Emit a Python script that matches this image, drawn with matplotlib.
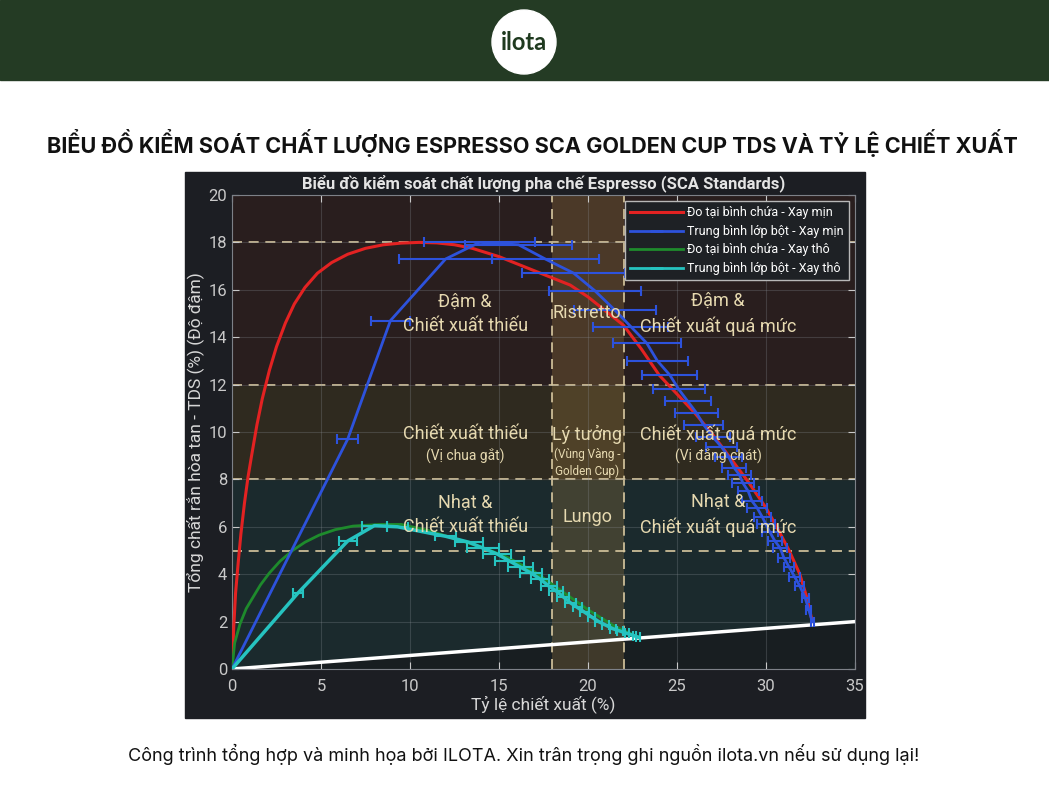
import matplotlib
matplotlib.use("Agg")
import matplotlib.pyplot as plt
from matplotlib import font_manager
from matplotlib.patches import Rectangle, Ellipse
from matplotlib.lines import Line2D

# Data
red_x = [0, 0.1, 0.2, 0.35, 0.5, 0.7, 0.9, 1.1, 1.4, 1.7, 2.1, 2.5, 3.0, 3.5, 4.1, 4.8, 5.6,
         6.5, 7.5, 8.5, 9.5, 10.5, 11.5, 12.5, 13.5, 15, 17, 19, 20, 21, 22, 23, 24, 25, 26,
         27, 28, 29, 30, 30.6, 31.3, 31.9, 32.3, 32.6]
red_y = [0, 1.8, 3.2, 4.5, 5.7, 7.0, 8.1, 9.0, 10.3, 11.4, 12.6, 13.6, 14.6, 15.4, 16.1, 16.7, 17.15,
         17.5, 17.75, 17.9, 17.97, 18.0, 17.98, 17.9, 17.75, 17.4, 16.8, 16.2, 15.7, 15.1, 14.5, 13.5,
         12.4, 11.6, 10.8, 9.9, 8.9, 7.9, 6.8, 6.0, 5.0, 4.0, 3.0, 2.0]

blue_x = [6.5, 8.9, 12.0, 13.9, 16.1, 17.6, 19.2, 20.4, 21.5, 22.4, 23.3, 23.9, 24.6, 25.1,
          25.6, 26.1, 26.5, 27.0, 27.5, 27.9, 28.2, 28.5, 28.7, 29.0, 29.2, 29.5, 29.8, 30.0,
          30.2, 30.5, 30.8, 31.0, 31.3, 31.6, 31.9, 32.2, 32.4, 32.6]
blue_y = [9.7, 14.7, 17.3, 18.0, 17.9, 17.3, 16.7, 15.95, 15.15, 14.45, 13.75, 13.0, 12.4, 11.8,
          11.3, 10.8, 10.3, 9.8, 9.37, 8.95, 8.5, 8.2, 7.85, 7.5, 7.1, 6.8, 6.4, 6.1,
          5.8, 5.4, 5.1, 4.7, 4.3, 3.9, 3.5, 3.0, 2.5, 2.0]
blue_err = [0.6, 1.1, 2.6, 3.1, 3.0, 3.0, 2.9, 2.6, 2.3, 2.1, 1.9, 1.7, 1.55, 1.45,
            1.3, 1.2, 1.1, 0.95, 0.85, 0.75, 0.7, 0.65, 0.6, 0.6, 0.55, 0.55, 0.5, 0.5,
            0.45, 0.4, 0.4, 0.35, 0.3, 0.3, 0.25, 0.2, 0.15, 0.1]

green_x = [0, 0.15, 0.45, 0.8, 1.2, 1.6, 2.1, 2.7, 3.4, 4.1, 4.9, 5.8, 6.8, 8.3, 9.5, 11,
           12.5, 14, 15.5, 17, 18.5, 20, 21.5, 22.8]
green_y = [0, 1.1, 1.9, 2.55, 3.05, 3.55, 4.05, 4.55, 5.0, 5.35, 5.65, 5.88, 6.03, 6.1, 6.1, 5.85,
           5.5, 5.15, 4.7, 4.1, 3.3, 2.5, 1.8, 1.35]

teal_x = [3.7, 6.5, 8.0, 9.3, 12.0, 13.3, 14.1, 14.9, 15.6, 16.2, 16.8, 17.3, 17.8, 18.2,
          18.6, 19.0, 19.4, 19.8, 20.2, 20.6, 21.0, 21.4, 21.8, 22.2, 22.6, 22.8]
teal_y = [3.2, 5.4, 6.05, 6.0, 5.6, 5.35, 5.1, 4.85, 4.55, 4.3, 4.05, 3.8, 3.5, 3.3,
          3.05, 2.8, 2.6, 2.4, 2.2, 2.0, 1.85, 1.7, 1.6, 1.5, 1.4, 1.35]
teal_err = [0.3, 0.5, 0.7, 0.6, 0.6, 0.8, 0.9, 0.8, 0.8, 0.7, 0.6, 0.5, 0.45, 0.4,
            0.35, 0.3, 0.25, 0.25, 0.2, 0.2, 0.2, 0.15, 0.15, 0.1, 0.1, 0.1]

ratio_x = [0, 35]
ratio_y = [0, 2.0]

zone_levels = [0, 8, 12, 20]
zone_colors = ["#1b2a2d", "#2f2a1f", "#291e1e"]
golden_x = [18, 22]
dash_y = [5, 8, 12, 18]

legend_labels = ["Đo tại bình chứa - Xay mịn", "Trung bình lớp bột - Xay mịn",
                 "Đo tại bình chứa - Xay thô", "Trung bình lớp bột - Xay thô"]


def pick(names):
    have = {f.name for f in font_manager.fontManager.ttflist}
    for n in names:
        if n in have:
            return n
    return "DejaVu Sans"


narrow = pick(["Liberation Sans Narrow", "DejaVu Sans Condensed", "Roboto", "DejaVu Sans"])
plt.rcParams['font.family'] = [narrow, 'DejaVu Sans']

W, H = 1049, 800
fig = plt.figure(figsize=(W / 100, H / 100), dpi=100)
fig.patch.set_facecolor("white")

# header bar + logo
fig.add_artist(Rectangle((0, 1 - 80 / H), 1, 80 / H, transform=fig.transFigure,
                         color="#243b24", zorder=0))
fig.add_artist(Ellipse((524 / W, 1 - 42 / H), 64 / W, 64 / H, transform=fig.transFigure,
                       color="white", zorder=1))
fig.text(524 / W, 1 - 42 / H, "ilota", ha="center", va="center", fontsize=17,
         fontweight="bold", color="#1f3a1f", family=["Lato", "DejaVu Sans"])

fig.text(532 / W, 1 - 143 / H,
         "BIỂU ĐỒ KIỂM SOÁT CHẤT LƯỢNG ESPRESSO SCA GOLDEN CUP TDS VÀ TỶ LỆ CHIẾT XUẤT",
         ha="center", va="center", fontsize=15.6, fontweight="bold", color="#111111",
         family=["Inter", "DejaVu Sans"])
fig.text(524 / W, 1 - 754 / H,
         "Công trình tổng hợp và minh họa bởi ILOTA. Xin trân trọng ghi nguồn ilota.vn nếu sử dụng lại!",
         ha="center", va="center", fontsize=13, color="#111111",
         family=["Inter", "DejaVu Sans"])

# dark chart panel
fig.add_artist(Rectangle((185 / W, 1 - 718 / H), 680 / W, 546 / H, transform=fig.transFigure,
                         color="#1c1e23", zorder=0))

ax = fig.add_axes([232 / W, 1 - 669 / H, 623 / W, 474 / H])
ax.set_facecolor("#1c1e23")
ax.set_xlim(0, 35)
ax.set_ylim(0, 20)

for i in range(3):
    ax.axhspan(zone_levels[i], zone_levels[i + 1], color=zone_colors[i], zorder=0)
ax.fill_between(ratio_x, 0, ratio_y, color="#18191c", alpha=0.7, zorder=0.5, lw=0)
ax.axvspan(golden_x[0], golden_x[1], color="#9a7840", alpha=0.3, zorder=0.6, lw=0)

ax.grid(True, color="#8a8f96", alpha=0.28, lw=0.8, zorder=0.7)
for yv in dash_y:
    ax.axhline(yv, color="#d8c8a0", lw=1.2, dashes=(6, 4), zorder=1)
for xv in golden_x:
    ax.axvline(xv, color="#d8c8a0", lw=1.2, dashes=(6, 4), zorder=1)

ax.plot(ratio_x, ratio_y, color="white", lw=2.5, zorder=2)

ax.plot(red_x, red_y, color="#e32222", lw=2.2, zorder=3)
ax.plot([0] + blue_x, [0] + blue_y, color="#2d52dc", lw=2.0, zorder=4)
ax.errorbar(blue_x, blue_y, xerr=blue_err, fmt="none", ecolor="#2d52dc", elinewidth=1.5,
            capsize=3.5, capthick=1.5, zorder=4)
ax.plot(green_x, green_y, color="#1e8b2c", lw=2.0, zorder=3)
ax.plot([0] + teal_x, [0] + teal_y, color="#26c3c0", lw=2.5, zorder=5)
ax.errorbar(teal_x, teal_y, xerr=teal_err, fmt="none", ecolor="#26c3c0", elinewidth=1.5,
            capsize=3.5, capthick=1.5, zorder=5)

txt = dict(color="#e6d9b0", ha="center", va="center", zorder=6, linespacing=1.45)
ax.text(13.1, 15.0, "Đậm &\nChiết xuất thiếu", fontsize=13, **txt)
ax.text(19.95, 15.0, "Ristretto", fontsize=13, **txt)
ax.text(27.3, 15.0, "Đậm &\nChiết xuất quá mức", fontsize=13, **txt)
ax.text(13.1, 9.9, "Chiết xuất thiếu", fontsize=13, **txt)
ax.text(13.1, 9.0, "(Vị chua gắt)", fontsize=10, **txt)
ax.text(19.95, 9.9, "Lý tưởng", fontsize=13, **txt)
ax.text(19.95, 8.7, "(Vùng Vàng -\nGolden Cup)", fontsize=8.5, color="#e6d9b0",
        ha="center", va="center", zorder=6, linespacing=1.3)
ax.text(27.3, 9.9, "Chiết xuất quá mức", fontsize=13, **txt)
ax.text(27.3, 9.0, "(Vị đắng chát)", fontsize=10, **txt)
ax.text(13.1, 6.5, "Nhạt &\nChiết xuất thiếu", fontsize=13, **txt)
ax.text(19.95, 6.4, "Lungo", fontsize=13, **txt)
ax.text(27.3, 6.5, "Nhạt &\nChiết xuất quá mức", fontsize=13, **txt)

ax.set_xticks(range(0, 36, 5))
ax.set_yticks(range(0, 21, 2))
ax.tick_params(colors="#c9c9c9", labelsize=12, direction="in", length=5,
               top=True, right=True)
ax.tick_params(axis="x", pad=7)
for s in ax.spines.values():
    s.set_color("#7d8188")
    s.set_linewidth(0.8)

ax.set_title("Biểu đồ kiểm soát chất lượng pha chế Espresso (SCA Standards)",
             color="#e4e4e4", fontsize=12, fontweight="bold", pad=5)
ax.set_xlabel("Tỷ lệ chiết xuất (%)", color="#d8d8d8", fontsize=12.5, labelpad=1)
ax.set_ylabel("Tổng chất rắn hòa tan - TDS (%) (Độ đậm)", color="#d8d8d8", fontsize=12.5,
              labelpad=3)

handles = [
    Line2D([], [], color="#e32222", lw=2.2),
    ax.errorbar([], [], xerr=[], color="#2d52dc", lw=2.0, capsize=3.5, capthick=1.5),
    Line2D([], [], color="#1e8b2c", lw=2.0),
    ax.errorbar([], [], xerr=[], color="#26c3c0", lw=2.0, capsize=3.5, capthick=1.5),
]
leg = ax.legend(handles, legend_labels, loc="upper right", fontsize=9, frameon=True,
                facecolor="#1e2125", edgecolor="#b8b8b8", framealpha=1, handlelength=4.3,
                handletextpad=0.3, borderpad=0.4, labelspacing=0.45, borderaxespad=0.5,
                fancybox=False)
leg.set_zorder(10)
for t in leg.get_texts():
    t.set_color("white")

fig.savefig("out.png", dpi=100, facecolor="white")
